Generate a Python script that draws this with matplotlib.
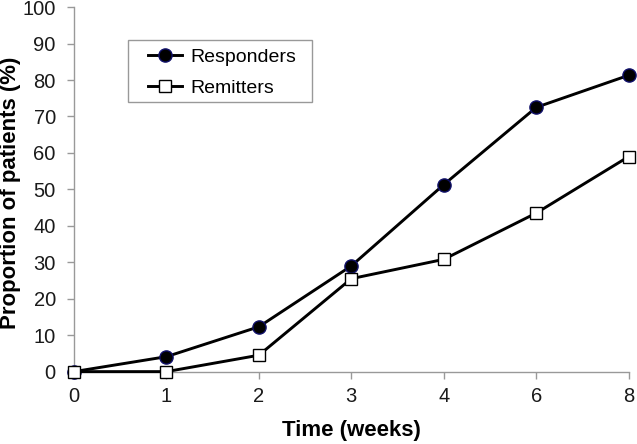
import matplotlib
matplotlib.use("Agg")
import matplotlib.pyplot as plt
from matplotlib.patches import Rectangle

# data
weeks = ["0", "1", "2", "3", "4", "6", "8"]
responders = [0, 4.1, 12.3, 29.0, 51.3, 72.5, 81.3]
remitters = [0, 0, 4.5, 25.5, 30.8, 43.5, 59.0]

plt.rcParams['font.family'] = ['Liberation Sans', 'DejaVu Sans']

fig = plt.figure(figsize=(6.37, 4.44), dpi=100)
ax = fig.add_axes([0.116, 0.163, 0.871, 0.821])

x = range(len(weeks))
ax.plot(x, responders, color='black', lw=2.1, marker='o', ms=9.5,
        mfc='black', mec='#10106a', mew=1.0, label='Responders', clip_on=False, zorder=3)
ax.plot(x, remitters, color='black', lw=2.1, marker='s', ms=8.8,
        mfc='white', mec='black', mew=1.0, label='Remitters', clip_on=False, zorder=3)

ax.set_xlim(0, len(weeks) - 1)
ax.set_ylim(0, 100)
ax.set_xticks(list(x))
ax.set_xticklabels(weeks)
ax.set_yticks(range(0, 101, 10))

for s in ['top', 'right']:
    ax.spines[s].set_visible(False)
for s in ['left', 'bottom']:
    ax.spines[s].set_color('#999999')
    ax.spines[s].set_linewidth(1.0)
ax.tick_params(colors='#999999', labelcolor='#1a1a1a', labelsize=14.5, length=5, width=1.0)
ax.tick_params(axis='x', pad=6)
ax.tick_params(axis='y', pad=8)

ax.set_xlabel('Time (weeks)', fontsize=16, fontweight='bold', labelpad=10)
ax.set_ylabel('Proportion of patients (%)', fontsize=16, fontweight='bold')
ax.yaxis.set_label_coords(-0.0955, 0.49)

# legend box drawn separately so the side padding can be wider than the top/bottom
box = Rectangle((0.0973, 0.7395), 0.3315, 0.17, transform=ax.transAxes,
                facecolor='white', edgecolor='#999999', lw=1.0, zorder=4)
ax.add_patch(box)
leg = ax.legend(loc='center left', bbox_to_anchor=(0.1333, 0.8204), fontsize=14,
                frameon=False, handlelength=1.75, handletextpad=0.45,
                borderpad=0, labelspacing=0.65, borderaxespad=0)
leg.set_zorder(5)

fig.savefig('out.png', dpi=100)
